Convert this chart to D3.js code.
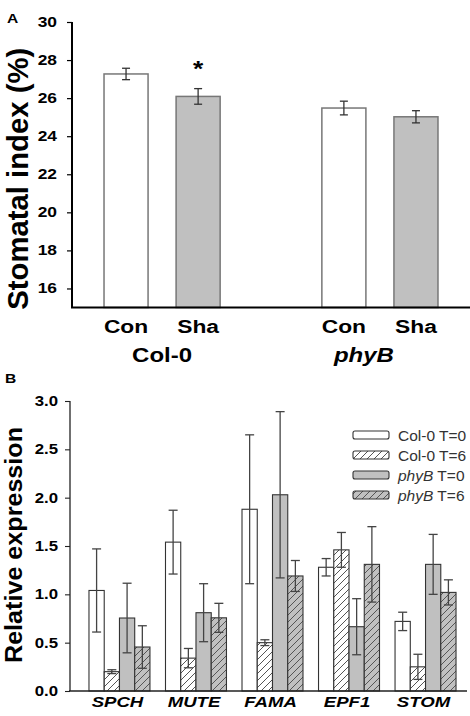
<!DOCTYPE html>
<html><head><meta charset="utf-8">
<script src="https://cdn.jsdelivr.net/npm/d3@7"></script>
<style>html,body{margin:0;padding:0;background:#fff;}svg{display:block;}</style>
</head><body>
<script>
// ---------- Panel A data ----------
const groupsA = ["Col-0", "phyB"];
const treatA = ["Con", "Sha"];
const colMean = [27.27, 26.09];
const colErr = [0.30, 0.41];
const phyMean = [25.48, 25.02];
const phyErr = [0.36, 0.32];
const ticksA = [16, 18, 20, 22, 24, 26, 28, 30];

// ---------- Panel B data ----------
const genes = ["SPCH", "MUTE", "FAMA", "EPF1", "STOM"];
const seriesB = ["Col-0 T=0", "Col-0 T=6", "phyB T=0", "phyB T=6"];
const col0T0 = [1.04, 1.54, 1.88, 1.28, 0.72];
const col0T0Err = [0.43, 0.33, 0.77, 0.09, 0.095];
const col0T6 = [0.20, 0.34, 0.50, 1.46, 0.25];
const col0T6Err = [0.02, 0.10, 0.03, 0.18, 0.13];
const phyBT0 = [0.755, 0.81, 2.03, 0.665, 1.31];
const phyBT0Err = [0.36, 0.30, 0.86, 0.29, 0.31];
const phyBT6 = [0.455, 0.757, 1.19, 1.31, 1.02];
const phyBT6Err = [0.22, 0.15, 0.16, 0.39, 0.13];
const ticksB = [0, 0.5, 1.0, 1.5, 2.0, 2.5, 3.0];

const FONT = "'Liberation Sans', Arial, Helvetica, sans-serif";
const SX = 1.2; // horizontal text stretch of the original

const svg = d3.select("body").append("svg").attr("width", 470).attr("height", 716);
svg.append("rect").attr("width", 470).attr("height", 716).attr("fill", "#fff");

const defs = svg.append("defs");
function hatch(id, bg) {
  const p = defs.append("pattern").attr("id", id).attr("patternUnits", "userSpaceOnUse")
    .attr("width", 7).attr("height", 7);
  p.append("rect").attr("width", 7).attr("height", 7).attr("fill", bg);
  p.append("path").attr("d", "M-1,1 l2,-2 M0,7 l7,-7 M6,8 l2,-2")
    .attr("stroke", "#555").attr("stroke-width", 1);
}
hatch("hw", "#fff");
hatch("hg", "#c0c0c0");

function txt(g, x, y, s, o = {}) {
  const t = g.append("text")
    .attr("transform", `translate(${x},${y}) scale(${SX},1)` + (o.rot ? ` rotate(${o.rot})` : ""))
    .attr("font-family", FONT)
    .attr("font-size", o.size || 14)
    .attr("font-weight", o.weight || "bold")
    .attr("font-style", o.italic ? "italic" : "normal")
    .attr("text-anchor", o.anchor || "middle")
    .attr("fill", o.fill || "#000")
    .text(s);
  if (o.len) t.attr("textLength", o.len).attr("lengthAdjust", "spacingAndGlyphs");
  return t;
}

function errBar(g, x, y1, y2, cap, color) {
  g.append("line").attr("x1", x).attr("x2", x).attr("y1", y1).attr("y2", y2)
    .attr("stroke", color).attr("stroke-width", 1.3);
  [y1, y2].forEach(yy => g.append("line").attr("x1", x - cap / 2).attr("x2", x + cap / 2)
    .attr("y1", yy).attr("y2", yy).attr("stroke", color).attr("stroke-width", 1.3));
}

// ================= Panel A =================
{
  const g = svg.append("g");
  const y = d3.scaleLinear().domain([15, 30]).range([307.5, 22]);
  const x0 = d3.scaleBand().domain(groupsA).range([72, 470]).paddingInner(0.467).paddingOuter(0.147);
  const x1 = d3.scaleBand().domain(treatA).range([0, x0.bandwidth()]).paddingInner(0.389).paddingOuter(0);
  const means = { "Col-0": colMean, "phyB": phyMean };
  const errs = { "Col-0": colErr, "phyB": phyErr };
  const fills = ["#ffffff", "#c0c0c0"];

  groupsA.forEach(gr => {
    treatA.forEach((t, i) => {
      const bx = x0(gr) + x1(t);
      g.append("rect").attr("x", bx).attr("y", y(means[gr][i]))
        .attr("width", x1.bandwidth()).attr("height", y(15) - y(means[gr][i]))
        .attr("fill", fills[i]).attr("stroke", "#777").attr("stroke-width", 1.5);
      const cx = bx + x1.bandwidth() / 2;
      errBar(g, cx, y(means[gr][i] + errs[gr][i]), y(means[gr][i] - errs[gr][i]), 8, "#333");
      txt(g, cx, 333, t, { size: 19 });
    });
  });
  // significance asterisk over Col-0 Sha
  {
    const cx = x0("Col-0") + x1("Sha") + x1.bandwidth() / 2;
    txt(g, cx, y(colMean[1] + colErr[1]) - 13, "*", { size: 22 });
  }
  // group labels
  txt(g, x0("Col-0") + x0.bandwidth() / 2, 362, "Col-0", { size: 20 });
  txt(g, x0("phyB") + x0.bandwidth() / 2 - 16, 362, "phyB", { size: 20, italic: true });

  // axes
  const ax = g.append("g").attr("transform", "translate(72,0)")
    .call(d3.axisLeft(y).tickValues(ticksA).tickSize(5).tickFormat(d3.format("d")));
  ax.select(".domain").remove();
  ax.selectAll(".tick line").attr("stroke", "#000").attr("stroke-width", 1.2);
  ax.selectAll(".tick text").remove();
  ticksA.forEach(v => txt(g, 57, y(v) + 5, String(v), { size: 14.5, anchor: "end" }));
  g.append("line").attr("x1", 72).attr("x2", 72).attr("y1", y(30)).attr("y2", y(15))
    .attr("stroke", "#000").attr("stroke-width", 2);
  g.append("line").attr("x1", 71).attr("x2", 470).attr("y1", y(15)).attr("y2", y(15))
    .attr("stroke", "#000").attr("stroke-width", 2);

  txt(g, 28, (y(30) + y(15)) / 2 + 14, "Stomatal index (%)", { size: 24, rot: -90, len: 262 });
  txt(g, 7, 23, "A", { size: 13, anchor: "start" });
}

// ================= Panel B =================
{
  const g = svg.append("g");
  const y = d3.scaleLinear().domain([0, 3]).range([691, 401]);
  const x0 = d3.scaleBand().domain(genes).range([70, 475]).paddingInner(0.203).paddingOuter(0.248);
  const x1 = d3.scaleBand().domain(seriesB).range([0, x0.bandwidth()]).padding(0);
  const vals = [col0T0, col0T6, phyBT0, phyBT6];
  const errs = [col0T0Err, col0T6Err, phyBT0Err, phyBT6Err];
  const fills = ["#ffffff", "url(#hw)", "#c0c0c0", "url(#hg)"];

  genes.forEach((gene, gi) => {
    seriesB.forEach((s, si) => {
      const v = vals[si][gi];
      const bx = x0(gene) + x1(s);
      g.append("rect").attr("x", bx).attr("y", y(v))
        .attr("width", x1.bandwidth()).attr("height", y(0) - y(v))
        .attr("fill", fills[si]).attr("stroke", "#333").attr("stroke-width", 1.1);
    });
    seriesB.forEach((s, si) => {
      const v = vals[si][gi], e = errs[si][gi];
      const cx = x0(gene) + x1(s) + x1.bandwidth() / 2;
      errBar(g, cx, y(v + e), y(v - e), 9, "#444");
    });
    txt(g, x0(gene) + x0.bandwidth() / 2 - 2, 707, gene, { size: 15.5, italic: true });
  });

  const ax = g.append("g").attr("transform", "translate(70,0)")
    .call(d3.axisLeft(y).tickValues(ticksB).tickSize(5));
  ax.select(".domain").remove();
  ax.selectAll(".tick line").attr("stroke", "#222").attr("stroke-width", 1.1);
  ax.selectAll(".tick text").remove();
  ticksB.forEach(v => txt(g, 58, y(v) + 5, d3.format(".1f")(v), { size: 14, anchor: "end" }));
  g.append("line").attr("x1", 70).attr("x2", 70).attr("y1", y(3)).attr("y2", y(0))
    .attr("stroke", "#222").attr("stroke-width", 1.3);
  g.append("line").attr("x1", 69).attr("x2", 467).attr("y1", y(0)).attr("y2", y(0))
    .attr("stroke", "#222").attr("stroke-width", 1.3);

  txt(g, 22, 545, "Relative expression", { size: 20, rot: -90, len: 236 });
  txt(g, 5, 383, "B", { size: 13, anchor: "start" });

  // legend
  const lg = g.append("g");
  seriesB.forEach((s, i) => {
    const yy = 435 + i * 20;
    lg.append("rect").attr("x", 353).attr("y", yy - 4).attr("width", 36).attr("height", 8)
      .attr("rx", 2).attr("fill", fills[i]).attr("stroke", "#333").attr("stroke-width", 1.1);
    const parts = s.split(" ");
    const t = lg.append("text").attr("x", 398).attr("y", yy + 6)
      .attr("font-family", FONT).attr("font-size", 15.5).attr("fill", "#333");
    t.append("tspan").attr("font-style", parts[0] === "phyB" ? "italic" : "normal").text(parts[0]);
    t.append("tspan").text(" " + parts[1]);
  });
}
</script>
</body></html>
